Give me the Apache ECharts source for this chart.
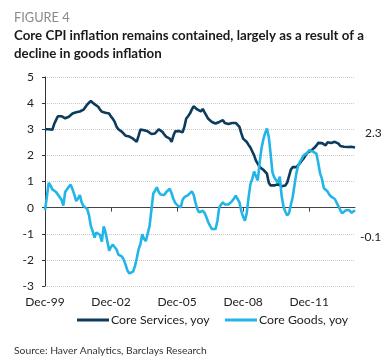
<!DOCTYPE html>
<html><head><meta charset="utf-8">
<script src="https://cdn.jsdelivr.net/npm/echarts@6/dist/echarts.min.js"></script>
<style>html,body{margin:0;padding:0;background:#fff}#c{width:390px;height:362px}</style>
</head><body><div id="c"></div>
<script>
// Monthly, Dec-99 .. Jan-14
var startYear = 1999, startMonth = 11;
var monthNames = ["Jan","Feb","Mar","Apr","May","Jun","Jul","Aug","Sep","Oct","Nov","Dec"];
var tickLabels = ["Dec-99","Dec-02","Dec-05","Dec-08","Dec-11"];
var seriesNames = ["Core Services, yoy", "Core Goods, yoy"];
var coreServices = [
3.0,3.02,3.0,3.05,2.98,3.2,3.35,3.5,3.55,3.5,3.45,3.42,
3.45,3.48,3.55,3.6,3.62,3.65,3.7,3.68,3.72,3.75,3.8,3.95,
4.0,4.08,4.02,3.96,3.98,3.86,3.75,3.67,3.65,3.63,3.65,3.6,
3.48,3.4,3.28,3.1,3.0,2.95,2.9,2.83,2.75,2.77,2.72,2.66,
2.64,2.58,2.52,2.75,2.99,2.94,2.96,2.94,2.92,2.9,2.82,2.85,
2.84,2.9,3.0,3.03,2.9,2.8,2.72,2.68,2.64,2.52,2.75,2.92,
2.96,2.93,2.94,2.88,3.1,3.41,3.5,3.6,3.75,3.88,3.85,3.76,
3.72,3.68,3.78,3.65,3.58,3.4,3.35,3.28,3.22,3.22,3.25,3.28,
3.32,3.35,3.24,3.28,3.2,3.15,3.24,3.26,3.24,3.18,3.09,2.85,
2.64,2.58,2.51,2.4,2.3,2.15,2.0,1.8,1.68,1.55,1.49,1.45,
1.42,1.3,0.95,0.85,0.82,0.85,0.92,0.9,0.88,0.82,0.78,0.85,
0.95,1.2,1.45,1.55,1.56,1.55,1.62,1.7,1.8,1.88,2.0,2.1,
2.15,2.18,2.2,2.3,2.38,2.48,2.51,2.47,2.4,2.38,2.5,2.48,
2.47,2.5,2.52,2.58,2.45,2.36,2.3,2.33,2.36,2.32,2.29,2.33,
2.35,2.3];
var coreGoods = [
-0.1,0.4,0.95,0.85,0.7,0.65,0.6,0.5,0.48,0.3,0.08,0.6,
0.7,0.8,0.88,0.7,0.5,0.25,0.35,0.48,0.2,0.06,0.05,-0.05,
-0.3,-0.7,-0.9,-1.15,-0.95,-0.92,-1.05,-1.3,-0.72,-0.95,-1.3,-1.65,
-1.5,-1.42,-1.4,-1.6,-1.8,-1.85,-1.88,-2.0,-2.2,-2.42,-2.52,-2.55,
-2.45,-2.25,-1.95,-1.6,-1.4,-1.02,-1.2,-1.28,-1.25,-0.7,-0.1,0.53,
0.65,0.78,0.6,0.5,0.55,0.48,0.59,0.65,0.72,0.55,0.33,0.18,
0.1,0.05,0.01,0.3,0.4,0.45,0.48,0.55,0.62,0.5,0.2,-0.05,
-0.18,-0.15,-0.12,-0.2,-0.37,-0.56,-0.7,-0.82,-0.78,-0.82,-0.5,0.01,
0.12,0.2,0.12,0.08,0.12,0.16,0.25,0.35,0.46,0.42,0.2,-0.12,
-0.35,-0.5,-0.2,0.4,0.9,1.1,1.38,1.2,1.04,1.7,2.26,2.6,
2.85,3.03,2.7,2.06,1.35,1.15,1.05,0.95,1.19,0.45,0.05,-0.15,
-0.3,-0.22,0.1,0.4,0.85,1.3,1.6,1.75,1.88,2.0,2.06,2.1,
2.2,2.22,2.15,2.12,2.06,1.7,1.3,1.1,0.75,0.68,0.62,0.5,
0.42,0.36,0.33,0.27,0.05,-0.1,-0.22,-0.2,-0.1,-0.06,-0.1,-0.2,
-0.14,-0.1];

var categories = [];
for (var i = 0; i < coreServices.length; i++) {
  var mm = (startMonth + i) % 12, yy = startYear + Math.floor((startMonth + i) / 12);
  categories.push(monthNames[mm] + "-" + String(yy % 100).padStart(2, "0"));
}

var FONT = "Lato, 'Open Sans', sans-serif";
var legendText = {fontFamily: FONT, fontSize: 12.3, color: '#222', padding: [0, 0, 0, -3]};
var chart = echarts.init(document.getElementById('c'), null, {renderer: 'canvas'});
chart.setOption({
  animation: false,
  textStyle: {fontFamily: FONT},
  title: [
    {text: 'FIGURE 4', left: 9, top: 6, textStyle: {fontFamily: FONT, fontSize: 12.8, fontWeight: 'normal', color: '#8a8a8a'}},
    {text: 'Core CPI inflation remains contained, largely as a result of a\ndecline in goods inflation', left: 9, top: 22,
     textStyle: {fontFamily: FONT, fontSize: 13.3, fontWeight: 'bold', color: '#1a1a1a', lineHeight: 18}},
    {text: 'Source: Haver Analytics, Barclays Research', left: 9, top: 341, textStyle: {fontFamily: FONT, fontSize: 10.3, fontWeight: 'normal', color: '#333'}}
  ],
  legend: [
    {left: 77, top: 314, padding: 0, itemWidth: 32, itemHeight: 3, icon: 'rect', textStyle: legendText, data: [seriesNames[0]]},
    {left: 225, top: 314, padding: 0, itemWidth: 32, itemHeight: 3, icon: 'rect', textStyle: legendText, data: [seriesNames[1]]}
  ],
  grid: {left: 45, right: 35, top: 77, bottom: 76},
  xAxis: [
    {type: 'category', data: categories, boundaryGap: false,
     axisLine: {onZero: true, lineStyle: {color: '#444', width: 1}},
     axisTick: {show: true, interval: 35, length: 4, inside: false, lineStyle: {color: '#444'}},
     axisLabel: {show: false}, splitLine: {show: false}},
    {type: 'category', data: categories, boundaryGap: false, position: 'bottom',
     axisLine: {show: false, onZero: false}, axisTick: {show: false},
     axisLabel: {show: true, interval: 35, margin: 10, fontSize: 12, color: '#222', fontFamily: FONT},
     splitLine: {show: false}}
  ],
  yAxis: {
    type: 'value', min: -3, max: 5, interval: 1,
    axisLine: {show: true, lineStyle: {color: '#333'}},
    axisTick: {show: true, length: 3, lineStyle: {color: '#333'}},
    axisLabel: {fontSize: 12, color: '#222', margin: 11, fontFamily: FONT},
    splitLine: {show: true, lineStyle: {color: '#c8c8c8', type: 'dotted', width: 1}}
  },
  series: [
    {name: seriesNames[0], type: 'line', data: coreServices, xAxisIndex: 0, showSymbol: false, symbol: 'none',
     lineStyle: {color: '#0c3b5c', width: 2.6}, itemStyle: {color: '#0c3b5c'}, z: 3,
     endLabel: {show: true, formatter: function (p) { return p.value.toFixed(1); }, offset: [2, -14], fontSize: 12, color: '#222', fontFamily: FONT}},
    {name: seriesNames[1], type: 'line', data: coreGoods, xAxisIndex: 0, showSymbol: false, symbol: 'none',
     lineStyle: {color: '#22b5e8', width: 2.6}, itemStyle: {color: '#22b5e8'}, z: 4,
     endLabel: {show: true, formatter: function (p) { return p.value.toFixed(1); }, offset: [-3, 27], fontSize: 12, color: '#222', fontFamily: FONT}}
  ]
});
</script></body></html>
